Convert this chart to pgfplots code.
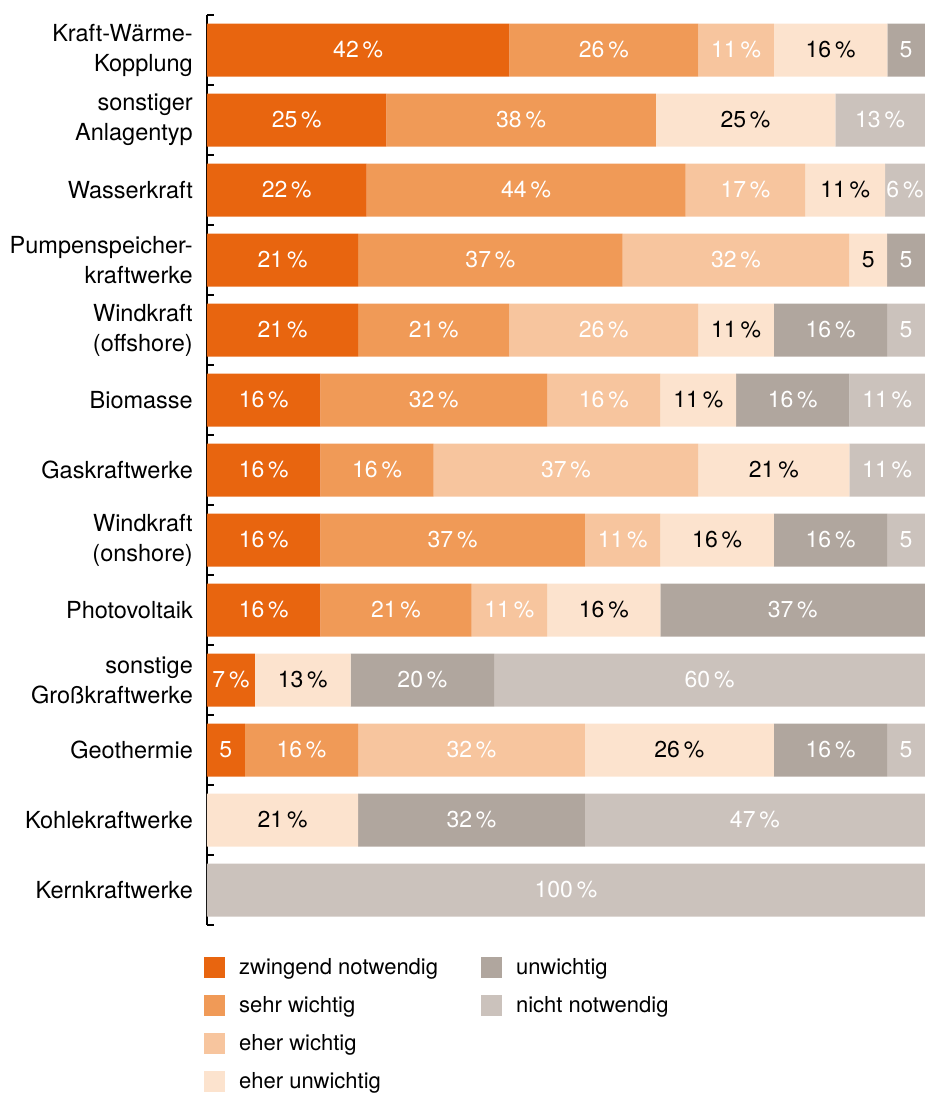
\documentclass[border=0pt]{standalone}
\usepackage{pgfplots}
\pgfplotsset{compat=1.18}
\usepackage{pgfplotstable}
\usepackage{fontspec}
\setmainfont{TeX Gyre Heros}
\definecolor{c1}{HTML}{E8650F}
\definecolor{c2}{HTML}{F09A57}
\definecolor{c3}{HTML}{F7C59E}
\definecolor{c4}{HTML}{FCE3CE}
\definecolor{c5}{HTML}{B0A69E}
\definecolor{c6}{HTML}{CBC2BC}
\pgfplotstableread{
y  a      b      c      d      e      f      la lb lc ld le lf
1  42.11  26.32  10.53  15.79  5.24   0      42 26 11 16 5  0
2  25     37.5   0      25     0      12.49  25 38 0  25 0  13
3  22.22  44.44  16.67  11.11  0      5.55   22 44 17 11 0  6
4  21.05  36.84  31.58  5.26   5.26   0      21 37 32 5  5  0
5  21.05  21.05  26.32  10.53  15.79  5.25   21 21 26 11 16 5
6  15.79  31.58  15.79  10.53  15.79  10.51  16 32 16 11 16 11
7  15.79  15.79  36.84  21.05  0      10.52  16 16 37 21 0  11
8  15.79  36.84  10.53  15.79  15.79  5.25   16 37 11 16 16 5
9  15.79  21.05  10.53  15.79  36.83  0      16 21 11 16 37 0
10 6.67   0      0      13.33  20     59.99  7  0  0  13 20 60
11 5.26   15.79  31.58  26.32  15.79  5.25   5  16 32 26 16 5
12 0      0      0      21.05  31.58  47.36  0  0  0  21 32 47
13 0      0      0      0      0      99.99  0  0  0  0  0  100
}\data
\begin{document}
\begin{tikzpicture}
\useasboundingbox (-207pt,-168pt) rectangle (720pt,925pt);
\begin{axis}[
  at={(0pt,0pt)}, anchor=south west,
  scale only axis, width=718pt, height=910pt,
  xbar stacked, bar width=53pt,
  xmin=0, xmax=100, ymin=0.5, ymax=13.5, y dir=reverse,
  axis x line=none, axis y line*=left,
  y axis line style={line width=1.6pt, black},
  ytick={1,...,13},
  yticklabels={{Kraft-Wärme-\\Kopplung},{sonstiger\\Anlagentyp},Wasserkraft,{Pumpenspeicher-\\kraftwerke},{Windkraft\\(offshore)},Biomasse,Gaskraftwerke,{Windkraft\\(onshore)},Photovoltaik,{sonstige\\Großkraftwerke},Geothermie,Kohlekraftwerke,Kernkraftwerke},
  minor ytick={0.5,1.5,...,13.5},
  major tick length=0pt, minor tick length=7pt, tick align=inside,
  minor tick style={black, line width=1.6pt},
  yticklabel style={align=right, font=\fontsize{23.5}{30}\selectfont, inner sep=0pt, xshift=-14pt},
  point meta=explicit symbolic,
  nodes near coords={\ifnum\pgfplotspointmeta=0\relax\else\ifnum\pgfplotspointmeta=5\relax 5\else\pgfplotspointmeta\,\%\fi\fi},
  every node near coord/.append style={anchor=center, font=\fontsize{23}{26}\selectfont},
  sq/.style={legend image code/.code={\fill[##1] (0pt,-10.5pt) rectangle (21pt,10.5pt);}},
  legend columns=2,
  legend cell align=left,
  legend style={at={(0,0)}, anchor=north west, xshift=-3pt, yshift=-32pt, draw=none, fill=none, inner sep=0pt,
    font=\fontsize{22}{26}\selectfont, nodes={inner sep=0pt}, row sep=17pt, column sep=14pt,
    /tikz/every even column/.append style={column sep=43pt}},
]
\addplot[forget plot, fill=c1, draw=none, every node near coord/.append style={text=white}] table[x=a, y=y, meta=la] {\data};
\addplot[forget plot, fill=c2, draw=none, every node near coord/.append style={text=white}] table[x=b, y=y, meta=lb] {\data};
\addplot[forget plot, fill=c3, draw=none, every node near coord/.append style={text=white}] table[x=c, y=y, meta=lc] {\data};
\addplot[forget plot, fill=c4, draw=none, every node near coord/.append style={text=black}] table[x=d, y=y, meta=ld] {\data};
\addplot[forget plot, fill=c5, draw=none, every node near coord/.append style={text=white}] table[x=e, y=y, meta=le] {\data};
\addplot[forget plot, fill=c6, draw=none, every node near coord/.append style={text=white}] table[x=f, y=y, meta=lf] {\data};
\addlegendimage{sq, fill=c1, draw=none}
\addlegendentry{zwingend notwendig}
\addlegendimage{sq, fill=c5, draw=none}
\addlegendentry{unwichtig}
\addlegendimage{sq, fill=c2, draw=none}
\addlegendentry{sehr wichtig}
\addlegendimage{sq, fill=c6, draw=none}
\addlegendentry{nicht notwendig}
\addlegendimage{sq, fill=c3, draw=none}
\addlegendentry{eher wichtig}
\addlegendimage{empty legend}
\addlegendentry{}
\addlegendimage{sq, fill=c4, draw=none}
\addlegendentry{eher unwichtig}
\end{axis}
\end{tikzpicture}
\end{document}
